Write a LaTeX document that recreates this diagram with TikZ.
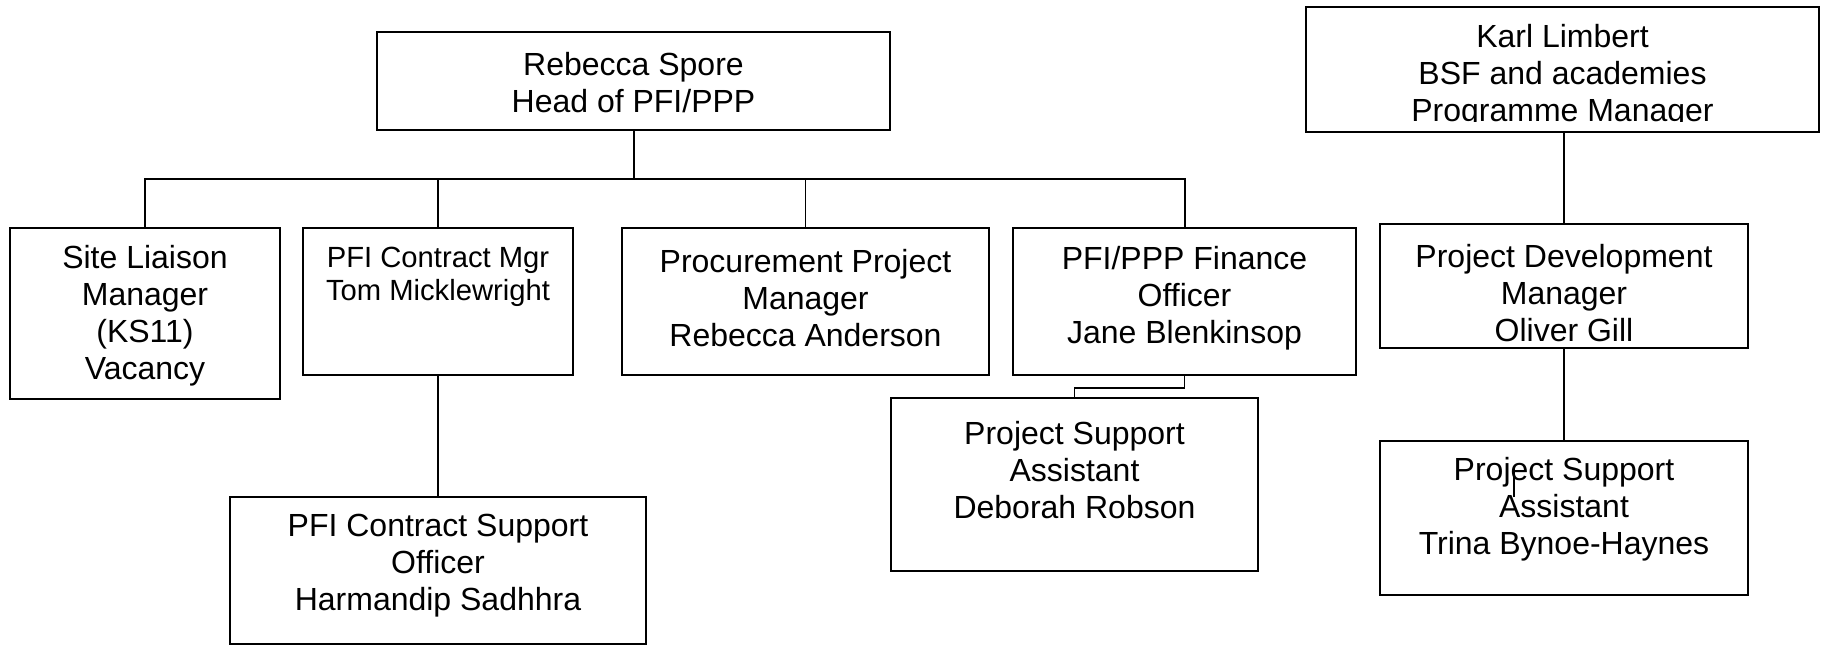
\documentclass[tikz,border=0pt]{standalone}
\usepackage{fontspec}
\setmainfont{Liberation Sans}
\begin{document}
\begin{tikzpicture}[x=0.5pt,y=-0.5pt,
  box/.style={draw=black,line width=1pt,inner sep=0pt,rectangle},
  txt/.style={align=center,inner sep=0pt,font=\fontsize{16}{18.5}\selectfont},
  smalltxt/.style={txt,font=\fontsize{14.6}{16.6}\selectfont},
  link/.style={draw=black,line width=0.7pt},
  trunk/.style={draw=black,line width=1pt}]
\newcommand\orgbox[5]{%
  \node[box,minimum width={(#4-#2)*0.5pt},minimum height={(#5-#3)*0.5pt}]
    (#1) at ({(#2+#4)/2},{(#3+#5)/2}) {};}
\useasboundingbox (0,0) rectangle (1821,645);

% boxes
\orgbox{head}{377}{32}{890}{130}
\orgbox{site}{10}{228}{280}{399}
\orgbox{pfi}{303}{228}{573}{375}
\orgbox{proc}{622}{228}{989}{375}
\orgbox{fin}{1013}{228}{1356}{375}
\orgbox{pfisup}{230}{497}{646}{644}
\orgbox{deb}{891}{398}{1258}{571}
\orgbox{karl}{1306}{7}{1819}{132}
\orgbox{pdm}{1380}{224}{1748}{348}
\orgbox{trina}{1380}{441}{1748}{595}

% texts
\node[txt] (headt) at (633.5,83) {Rebecca Spore\\Head of PFI/PPP};
\node[txt] (sitet) at (145,316) {Site Liaison\\Manager\\(KS11)\\Vacancy};
\node[smalltxt] (pfit) at (438,276.5) {PFI Contract Mgr\\Tom Micklewright};
\node[txt] (proct) at (805.5,298) {Procurement Project\\Manager\\Rebecca Anderson};
\node[txt] (fint) at (1184.5,298) {PFI/PPP Finance\\Officer\\Jane Blenkinsop};
\node[txt] (pfisupt) at (438,566) {PFI Contract Support\\Officer\\Harmandip Sadhhra};
\node[txt] (debt) at (1074.5,470) {Project Support\\Assistant\\Deborah Robson};
\begin{scope}
  \clip (1306,7) rectangle (1819,121);
  \node[txt] (karlt) at (1562.5,76) {Karl Limbert\\BSF and academies\\Programme Manager};
\end{scope}
\node[txt] (pdmt) at (1564,293) {Project Development\\Manager\\Oliver Gill};
\node[txt] (trinat) at (1564,509) {Project Support\\Assistant\\Trina Bynoe-Haynes};

% reporting lines
\coordinate (bus) at (633.5,179);
\draw[trunk] (head.south) -- (head.south |- bus);
\draw[trunk] (site.north) |- (fin.north |- bus) -- (fin.north);
\draw[link] (pfi.north) -- (pfi.north |- bus);
\draw[link] (proc.north) -- (proc.north |- bus);
\draw[link] (pfi.south) -- (pfisup.north);
\draw[link] (fin.south) -- ++(0,12) -| (deb.north);
\draw[link] (pdm.north |- karl.south) -- (pdm.north);
\draw[link] (pdm.south) -- (trina.north);

% stray stroke inside the lower right box
\draw[line width=0.7pt] (1514,467) -- (1514,497);
\end{tikzpicture}
\end{document}
